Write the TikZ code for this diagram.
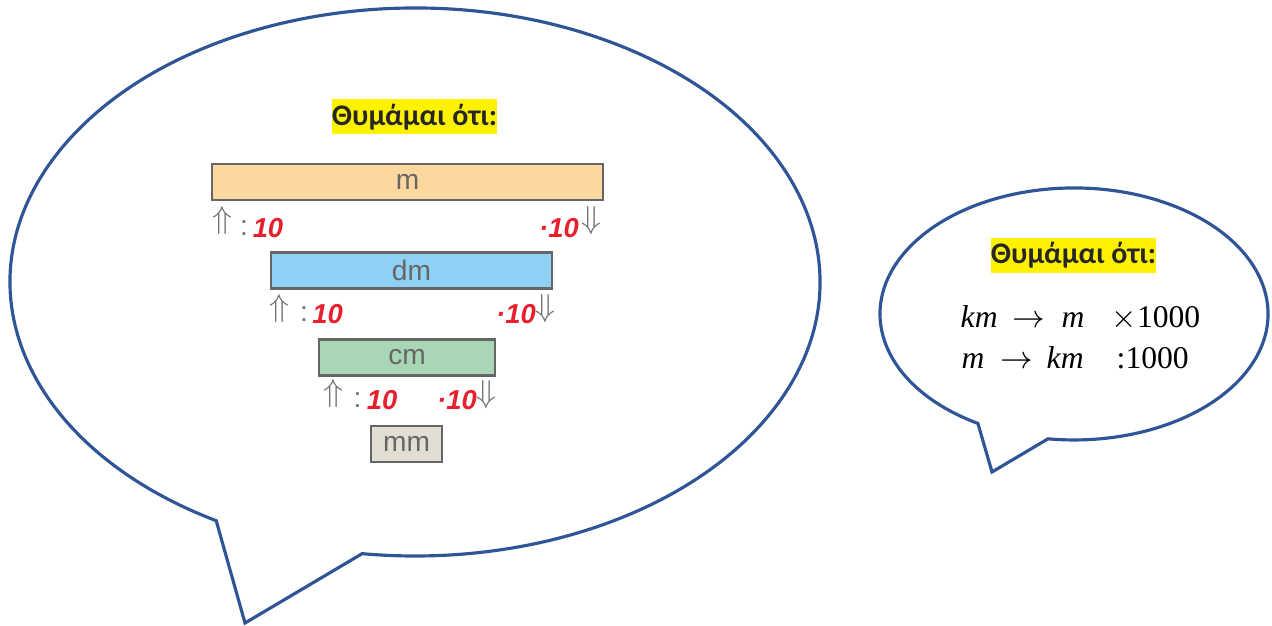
\documentclass[tikz,border=0pt]{standalone}
\usepackage{fontspec}
\newfontfamily\calfont{Carlito}
\newfontfamily\arialfont{Liberation Sans}
\newfontfamily\timesfont{Liberation Serif}
\definecolor{bubbleblue}{HTML}{2F5597}
\definecolor{mfill}{HTML}{FCD79E}
\definecolor{dmfill}{HTML}{8ED1F4}
\definecolor{cmfill}{HTML}{A9D6B4}
\definecolor{mmfill}{HTML}{E3DED4}
\definecolor{unitred}{HTML}{E8202E}
\definecolor{arrgray}{HTML}{707070}
\tikzset{
  bubble/.style={draw=bubbleblue, line width=0.9pt},
  remember/.style={fill=yellow, inner sep=0pt, minimum width=16.3mm, minimum height=3.5mm,
    font=\calfont\bfseries\fontsize{8.5}{10}\selectfont, text=black!85},
  unitbox/.style={draw=black!60, line width=0.6pt, inner sep=0pt, minimum height=3.6mm,
    font=\arialfont\fontsize{8}{9}\selectfont, text=black!60},
  arr/.style={inner sep=0pt, text=arrgray, font=\fontsize{9}{10}\selectfont},
  colon/.style={inner sep=0pt, text=arrgray, font=\arialfont\fontsize{8}{9}\selectfont},
  ten/.style={inner sep=0pt, text=unitred, font=\arialfont\bfseries\itshape\fontsize{7.8}{9}\selectfont},
  conv/.style={inner sep=0pt, anchor=base west, font=\timesfont\fontsize{9}{10}\selectfont}
}
\begin{document}
\begin{tikzpicture}[x=0.1mm, y=0.1mm]
  \useasboundingbox (0,0) rectangle (1272,-626);
  % left bubble
  \coordinate (bigtip) at (245,-623);
  \draw[bubble] (bigtip) -- (216.2,-520.7)
    arc[start angle=240.6, end angle=-97.5, x radius=40.5mm, y radius=27.4mm] -- cycle;
  \node[remember] (bigtitle) at (414.5,-117) {Θυμάμαι ότι:};
  % unit ladder
  \node[unitbox, fill=mfill, minimum width=39.1mm] (m) at (407.5,-182) {m};
  \node[unitbox, fill=dmfill, minimum width=28.1mm] (dm) at (411.5,-270.5) {dm};
  \node[unitbox, fill=cmfill, minimum width=17.6mm] (cm) at (407,-357.5) {cm};
  \node[unitbox, fill=mmfill, minimum width=7.1mm] (mm) at (406.5,-444) {mm};
  \node[arr] (mup) at (222,-220.5) {$\Uparrow$};
  \node[colon] (mcol) at (244,-228) {:};
  \node[ten] (mdiv) at (268,-228) {10};
  \node[ten] (mmul) at (559,-228) {·10};
  \node[arr] (mdown) at (591,-220.5) {$\Downarrow$};
  \node[arr] (dmup) at (279,-309) {$\Uparrow$};
  \node[colon] (dmcol) at (304,-314) {:};
  \node[ten] (dmdiv) at (327.5,-314) {10};
  \node[ten] (dmmul) at (516,-314) {·10};
  \node[arr] (dmdown) at (545,-309) {$\Downarrow$};
  \node[arr] (cmup) at (333,-394) {$\Uparrow$};
  \node[colon] (cmcol) at (357.5,-400) {:};
  \node[ten] (cmdiv) at (382,-400) {10};
  \node[ten] (cmmul) at (457,-400) {·10};
  \node[arr] (cmdown) at (486,-395) {$\Downarrow$};
  % right bubble
  \coordinate (smalltip) at (992,-472);
  \draw[bubble] (smalltip) -- (977.9,-423.4)
    arc[start angle=240.3, end angle=-97.7, x radius=19.4mm, y radius=12.6mm] -- cycle;
  \node[remember] (smalltitle) at (1073.5,-255.5) {Θυμάμαι ότι:};
  \node[conv] (kma) at (960,-327) {\itshape km};
  \node[conv] (toa) at (1012,-327) {$\rightarrow$};
  \node[conv] (ma) at (1061,-327) {\itshape m};
  \node[conv] (mula) at (1111,-327) {$\times$1000};
  \node[conv] (mb) at (961,-368) {\itshape m};
  \node[conv] (tob) at (1000,-368) {$\rightarrow$};
  \node[conv] (kmb) at (1046,-368) {\itshape km};
  \node[conv] (divb) at (1116,-368) {:1000};
\end{tikzpicture}
\end{document}
